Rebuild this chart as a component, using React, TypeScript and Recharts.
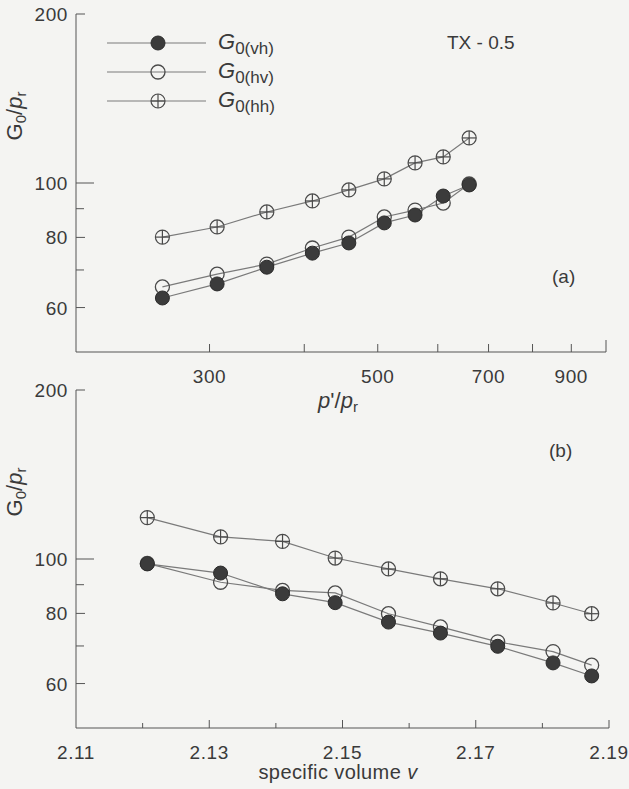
import React from 'react';
import { LineChart, Line, XAxis, YAxis, Legend } from 'recharts';

// panel (a): G0/pr against p'/pr
const pRatio = [260, 307, 357, 410, 458, 510, 560, 610, 660];
const vhA = [62.4, 66.1, 70.8, 75.0, 78.2, 84.9, 87.7, 94.8, 99.2];
const hvA = [65.3, 68.8, 71.7, 76.6, 80.1, 87.0, 89.5, 92.1, 99.6];
const hhA = [80.1, 83.5, 88.8, 92.9, 97.2, 101.7, 108.6, 111.3, 120.3];

// panel (b): G0/pr against specific volume
const specVol = [2.1207, 2.1317, 2.141, 2.1489, 2.1569, 2.1647, 2.1733, 2.1816, 2.1874];
const vhB = [98.0, 94.4, 86.7, 83.6, 77.2, 73.8, 69.9, 65.3, 61.9];
const hvB = [98.2, 90.9, 87.9, 87.0, 79.9, 75.7, 71.2, 68.4, 64.7];
const hhB = [118.5, 109.5, 107.5, 100.4, 96.0, 92.2, 88.5, 83.5, 79.9];

const yTicks = [60, 70, 80, 90, 100, 200];
const yLabels = [60, 80, 100, 200];
const pTicks = [300, 400, 500, 600, 700, 800, 900, 1000];
const pLabels = [300, 500, 700, 900];
const vTicks = [2.11, 2.12, 2.13, 2.14, 2.15, 2.16, 2.17, 2.18, 2.19];
const vLabels = [2.11, 2.13, 2.15, 2.17, 2.19];

const dataA = pRatio.map((p, i) => ({ p, vh: vhA[i], hv: hvA[i], hh: hhA[i] }));
const dataB = specVol.map((v, i) => ({ v, vh: vhB[i], hv: hvB[i], hh: hhB[i] }));

const INK = '#3a3a3a';
const AXIS = '#555';
const LINE = '#7a7a7a';
const FONT = "'Liberation Sans', Arial, sans-serif";

function filledDot(props: any) {
  const { cx, cy, index } = props;
  if (cx == null || cy == null) return <g key={`f-${index}`} />;
  return <circle key={`f-${index}`} cx={cx} cy={cy} r={7} fill="#3b3b3b" stroke="#2c2c2c" strokeWidth={1} />;
}

function openDot(props: any) {
  const { cx, cy, index } = props;
  if (cx == null || cy == null) return <g key={`o-${index}`} />;
  return <circle key={`o-${index}`} cx={cx} cy={cy} r={7} fill="none" stroke="#4a4a4a" strokeWidth={1.3} />;
}

function crossDot(props: any) {
  const { cx, cy, index } = props;
  if (cx == null || cy == null) return <g key={`c-${index}`} />;
  return (
    <g key={`c-${index}`} stroke="#4a4a4a" strokeWidth={1.2} fill="none">
      <circle cx={cx} cy={cy} r={7} />
      <line x1={cx - 7} y1={cy} x2={cx + 7} y2={cy} />
      <line x1={cx} y1={cy - 7} x2={cx} y2={cy + 7} />
    </g>
  );
}

function YTick(props: any) {
  const { x, y, payload } = props;
  const v = payload.value;
  const len = v === 100 ? 18 : yLabels.includes(v) ? 9 : 8;
  return (
    <g>
      <line x1={x} y1={y} x2={x + len} y2={y} stroke={AXIS} strokeWidth={1} />
      {yLabels.includes(v) && (
        <text x={x - 8} y={y + 7} textAnchor="end" fontSize={19} letterSpacing={0.6} fill={INK} fontFamily={FONT}>
          {v}
        </text>
      )}
    </g>
  );
}

function PTick(props: any) {
  const { x, y, payload } = props;
  const v = payload.value;
  const len = v === 1000 ? 12 : 8;
  return (
    <g>
      <line x1={x} y1={y} x2={x} y2={y - len} stroke={AXIS} strokeWidth={1} />
      {pLabels.includes(v) && (
        <text x={x} y={y + 31} textAnchor="middle" fontSize={19} letterSpacing={0.6} fill={INK} fontFamily={FONT}>
          {v}
        </text>
      )}
    </g>
  );
}

function VTick(props: any) {
  const { x, y, payload } = props;
  const v = payload.value;
  const major = vLabels.includes(v);
  const len = v === 2.11 ? 0 : major ? 8 : 5;
  return (
    <g>
      {len > 0 && <line x1={x} y1={y} x2={x} y2={y - len} stroke={AXIS} strokeWidth={1} />}
      {major && (
        <text x={x} y={y + 31} textAnchor="middle" fontSize={19} letterSpacing={0.6} fill={INK} fontFamily={FONT}>
          {v.toFixed(2)}
        </text>
      )}
    </g>
  );
}

function yTitle(props: any) {
  const { viewBox } = props;
  const cx = 22;
  const cy = viewBox.y + 102;
  return (
    <text
      x={cx}
      y={cy}
      transform={`rotate(-90 ${cx} ${cy})`}
      textAnchor="middle"
      fontSize={22}
      fill={INK}
      fontFamily={FONT}
    >
      G<tspan fontSize={15} dy={4}>0</tspan>
      <tspan dy={-4}>/</tspan>
      <tspan fontStyle="italic">p</tspan>
      <tspan fontSize={15} dy={4}>r</tspan>
    </text>
  );
}

function pTitle(props: any) {
  const { viewBox } = props;
  const cx = viewBox.x + 262;
  return (
    <text x={cx} y={viewBox.y + 56} textAnchor="middle" fontSize={22} fill={INK} fontFamily={FONT}>
      <tspan fontStyle="italic">p</tspan>'/<tspan fontStyle="italic">p</tspan>
      <tspan fontSize={15} dy={4}>r</tspan>
    </text>
  );
}

function vTitle(props: any) {
  const { viewBox } = props;
  const cx = viewBox.x + 262;
  return (
    <text x={cx} y={viewBox.y + 51} textAnchor="middle" fontSize={20} letterSpacing={0.4} fill={INK} fontFamily={FONT}>
      specific volume <tspan fontStyle="italic">v</tspan>
    </text>
  );
}

const legendRows = [
  { key: 'vh', sub: '0(vh)', dot: filledDot },
  { key: 'hv', sub: '0(hv)', dot: openDot },
  { key: 'hh', sub: '0(hh)', dot: crossDot },
];

function renderLegend() {
  return (
    <svg width={200} height={100}>
      {legendRows.map((row, i) => {
        const y = 18 + i * 29;
        return (
          <g key={row.key}>
            <line x1={7} y1={y} x2={106} y2={y} stroke={LINE} strokeWidth={1.2} />
            {row.dot({ cx: 58, cy: y, index: i })}
            <text x={118} y={y + 6} fontSize={22} fill={INK} fontFamily={FONT}>
              <tspan fontStyle="italic">G</tspan>
              <tspan fontSize={17} dy={5}>{row.sub}</tspan>
            </text>
          </g>
        );
      })}
    </svg>
  );
}

export default function App() {
  return (
    <div
      style={{
        position: 'absolute',
        left: 0,
        top: 0,
        width: 629,
        height: 789,
        background: '#f4f4f2',
        fontFamily: FONT,
        overflow: 'hidden',
      }}
    >
      <div style={{ position: 'absolute', left: 0, top: 0 }}>
        <LineChart width={629} height={420} data={dataA} margin={{ top: 14, right: 23, left: 0, bottom: 0 }}>
          <XAxis
            dataKey="p"
            type="number"
            scale="log"
            domain={[200, 1000]}
            allowDataOverflow
            ticks={pTicks}
            interval={0}
            tickSize={0}
            tickMargin={0}
            tickLine={false}
            tick={<PTick />}
            height={68}
            stroke={AXIS}
            label={pTitle}
          />
          <YAxis
            type="number"
            scale="log"
            domain={[50, 200]}
            allowDataOverflow
            ticks={yTicks}
            interval={0}
            tickSize={0}
            tickMargin={0}
            tickLine={false}
            tick={<YTick />}
            width={76}
            stroke={AXIS}
            label={yTitle}
          />
          <Legend
            content={renderLegend}
            layout="horizontal"
            verticalAlign="middle"
            align="center"
            wrapperStyle={{ position: 'absolute', left: 100, top: 25, width: 200, height: 100 }}
          />
          <Line dataKey="hh" name="hh" stroke={LINE} strokeWidth={1.2} dot={crossDot} isAnimationActive={false} />
          <Line dataKey="hv" name="hv" stroke={LINE} strokeWidth={1.2} dot={openDot} isAnimationActive={false} />
          <Line dataKey="vh" name="vh" stroke={LINE} strokeWidth={1.2} dot={filledDot} isAnimationActive={false} />
        </LineChart>
      </div>
      <div style={{ position: 'absolute', left: 0, top: 380 }}>
        <LineChart width={629} height={409} data={dataB} margin={{ top: 10, right: 20, left: 0, bottom: 0 }}>
          <XAxis
            dataKey="v"
            type="number"
            domain={[2.11, 2.19]}
            allowDataOverflow
            ticks={vTicks}
            interval={0}
            tickSize={0}
            tickMargin={0}
            tickLine={false}
            tick={<VTick />}
            height={61}
            stroke={AXIS}
            label={vTitle}
          />
          <YAxis
            type="number"
            scale="log"
            domain={[50, 200]}
            allowDataOverflow
            ticks={yTicks}
            interval={0}
            tickSize={0}
            tickMargin={0}
            tickLine={false}
            tick={<YTick />}
            width={76}
            stroke={AXIS}
            label={yTitle}
          />
          <Line dataKey="hh" stroke={LINE} strokeWidth={1.2} dot={crossDot} isAnimationActive={false} />
          <Line dataKey="hv" stroke={LINE} strokeWidth={1.2} dot={openDot} isAnimationActive={false} />
          <Line dataKey="vh" stroke={LINE} strokeWidth={1.2} dot={filledDot} isAnimationActive={false} />
        </LineChart>
      </div>
      <div style={{ position: 'absolute', left: 447, top: 32, fontSize: 19, color: INK }}>TX - 0.5</div>
      <div style={{ position: 'absolute', left: 552, top: 266, fontSize: 19, color: INK }}>(a)</div>
      <div style={{ position: 'absolute', left: 549, top: 440, fontSize: 19, color: INK }}>(b)</div>
    </div>
  );
}
